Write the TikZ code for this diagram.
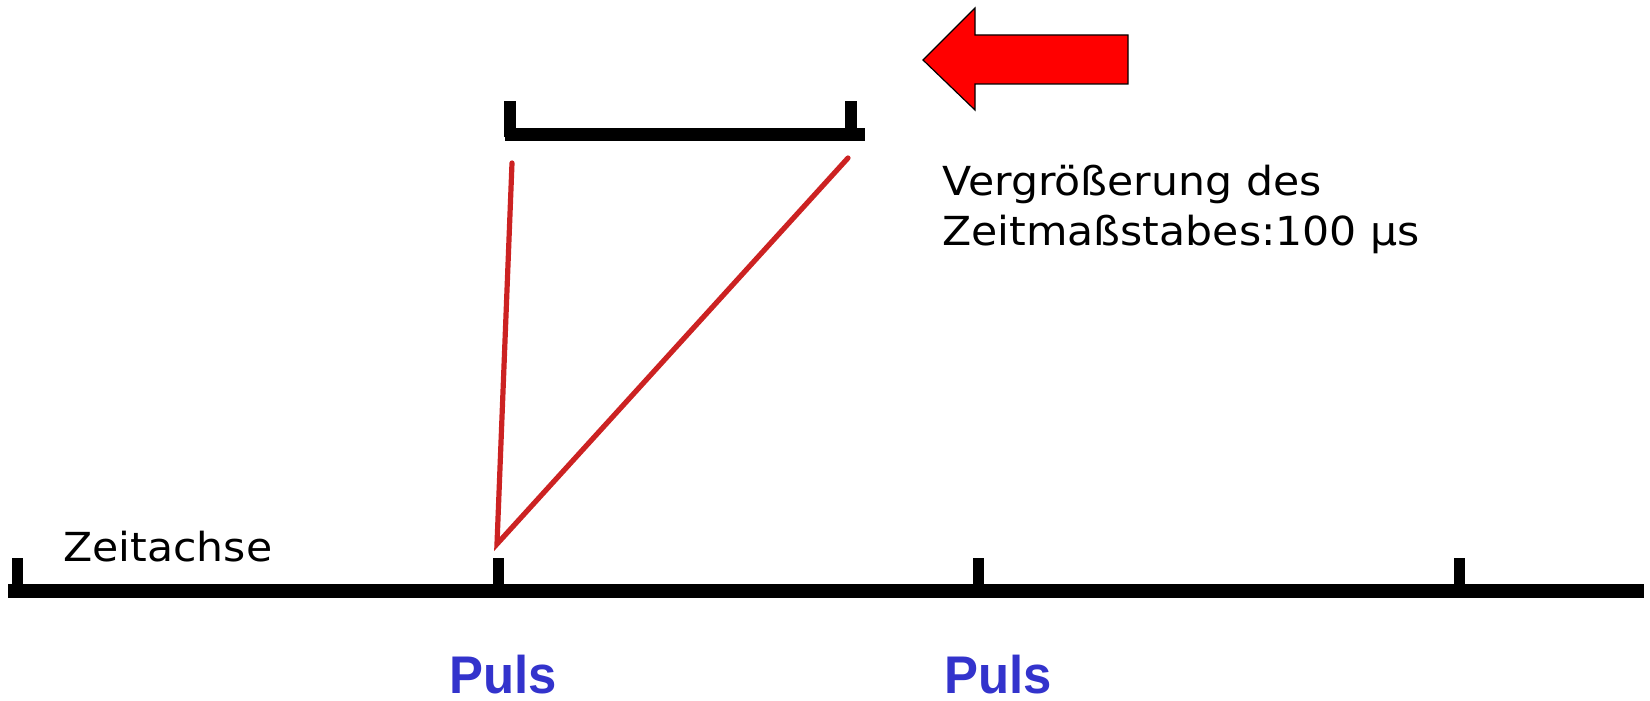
\documentclass[tikz,border=0pt]{standalone}
\usepackage{fontspec}
\setmainfont{DejaVu Sans}
\newfontfamily\pulsfont{Liberation Sans}
\definecolor{pulsBlue}{RGB}{51,51,204}
\definecolor{zoomRed}{RGB}{204,34,34}
\definecolor{arrowRed}{RGB}{255,0,0}
\usetikzlibrary{positioning,calc}

\tikzset{
  axisline/.style={line width=7pt,black},
  tickmark/.style={line width=5.5pt,black},
  zoomline/.style={line width=2.6pt,zoomRed,line cap=round},
  infotext/.style={font=\fontsize{20}{25}\selectfont,inner sep=0pt,anchor=base west,xscale=1.065},
  pulslabel/.style={font=\pulsfont\bfseries\fontsize{26.5}{28}\selectfont,text=pulsBlue,
                    inner sep=0pt,text depth=0pt,anchor=base,xscale=0.96}
}

\begin{document}
\begin{tikzpicture}[x=0.5pt,y=-0.5pt]
  \useasboundingbox (0,0) rectangle (1650,701);

  % zeitachse mit markierungen
  \coordinate (axisL) at (8,591);
  \coordinate (axisR) at (1644,591);
  \draw[axisline] (axisL) -- (axisR);
  \foreach \tx/\tn in {17/t0,498/t1,978/t2,1459/t3} {
    \coordinate (\tn) at (\tx,591);
    \draw[tickmark] (\tn) -- ++(0,-33);
  }
  \node[infotext] (zeitachse) at (63,561) {Zeitachse};

  % vergroesserter ausschnitt
  \coordinate (zoomL) at (505,135);
  \coordinate (zoomR) at (865,135);
  \draw[line width=6.5pt] (zoomL) -- (zoomR);
  \draw[line width=6pt] (510,137) -- (510,101);
  \draw[line width=6pt] (851,137) -- (851,101);

  % rote hilfslinien
  \coordinate (pulsTop) at (497,544);
  \coordinate (zoomStart) at (512,163);
  \coordinate (zoomEnd) at (848,158);
  \draw[zoomline] (zoomStart) -- (pulsTop) -- (zoomEnd);

  % roter pfeil
  \draw[fill=arrowRed,line width=0.6pt,line join=miter]
    (923,60) -- (975,8) -- (975,35) -- (1128,35) -- (1128,84) -- (975,84) -- (975,110) -- cycle;

  \node[infotext] (vergr) at (942,195) {Vergrößerung des};
  \node[infotext] (massstab) at (942,245) {Zeitmaßstabes:100 µs};

  \node[pulslabel] (puls1) at (503,693) {Puls};
  \node[pulslabel] (puls2) at (998,693) {Puls};
\end{tikzpicture}
\end{document}
